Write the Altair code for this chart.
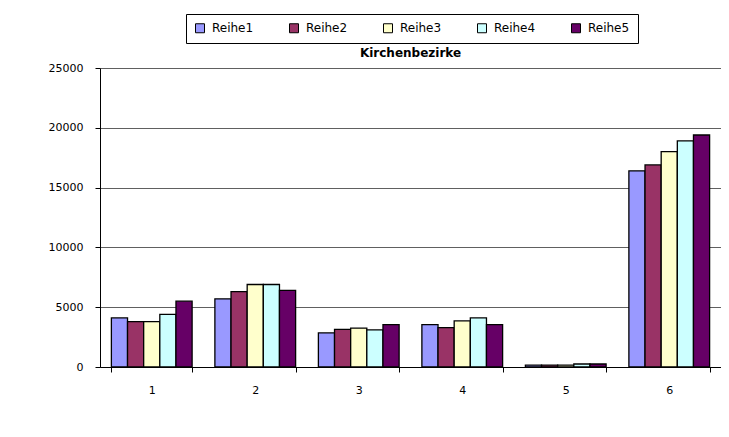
import altair as alt
import pandas as pd

categories = ["1", "2", "3", "4", "5", "6"]
series = ["Reihe1", "Reihe2", "Reihe3", "Reihe4", "Reihe5"]
reihe1 = [4100, 5700, 2850, 3550, 150, 16400]
reihe2 = [3800, 6300, 3150, 3300, 150, 16900]
reihe3 = [3800, 6900, 3250, 3850, 150, 18000]
reihe4 = [4400, 6900, 3100, 4100, 250, 18900]
reihe5 = [5500, 6400, 3550, 3550, 250, 19400]
colors = ["#9999FF", "#993366", "#FFFFCC", "#CCFFFF", "#660066"]
y_ticks = [0, 5000, 10000, 15000, 20000, 25000]

rows = []
for s, vals in zip(series, [reihe1, reihe2, reihe3, reihe4, reihe5]):
    for c, v in zip(categories, vals):
        rows.append({"Bezirk": c, "Reihe": s, "Wert": v})
df = pd.DataFrame(rows)

FONT = "DejaVu Sans"

chart = alt.Chart(df).mark_bar(stroke="black", strokeWidth=1.3).encode(
    x=alt.X(
        "Bezirk:N",
        sort=categories,
        scale=alt.Scale(paddingInner=0.22, paddingOuter=0.11),
        axis=alt.Axis(
            title=None, labelAngle=0, tickBand="extent", tickSize=5,
            tickColor="black", domainColor="black", labelPadding=12,
            labelFont=FONT, labelFontSize=11, labelColor="black", grid=False,
        ),
    ),
    xOffset=alt.XOffset("Reihe:N", sort=series,
                        scale=alt.Scale(paddingInner=0, paddingOuter=0)),
    y=alt.Y(
        "Wert:Q",
        scale=alt.Scale(domain=[0, 25000], nice=False),
        axis=alt.Axis(
            title=None, values=y_ticks, format="d", tickSize=5,
            tickColor="black", domainColor="black", labelPadding=12,
            labelFont=FONT, labelFontSize=11, labelColor="black", grid=True,
            gridColor="#606060", gridWidth=1,
        ),
    ),
    color=alt.Color(
        "Reihe:N",
        scale=alt.Scale(domain=series, range=colors),
        legend=alt.Legend(
            title=None, orient="none", legendX=86, legendY=-54,
            direction="horizontal", columns=5, symbolType="square",
            symbolSize=81, symbolStrokeColor="black", symbolStrokeWidth=1,
            symbolOpacity=1, labelFont=FONT, labelFontSize=12,
            labelColor="black", fillColor="white", strokeColor="black",
            padding=8, columnPadding=33, labelOffset=6,
        ),
    ),
).properties(
    width=621,
    height=299,
    title=alt.TitleParams(
        "Kirchenbezirke", font=FONT, fontSize=12, fontWeight="bold",
        anchor="middle", color="black", offset=0, baseline="alphabetic",
        dy=55,
    ),
    autosize=alt.AutoSizeParams(type="none"),
    padding={"left": 92, "top": 60, "right": 0, "bottom": 50},
).configure_view(
    fill="#C0C0C0", stroke="#808080", strokeWidth=1
).configure(background="white")

chart.save("out.html", embed_options={"renderer": "svg", "actions": False})
